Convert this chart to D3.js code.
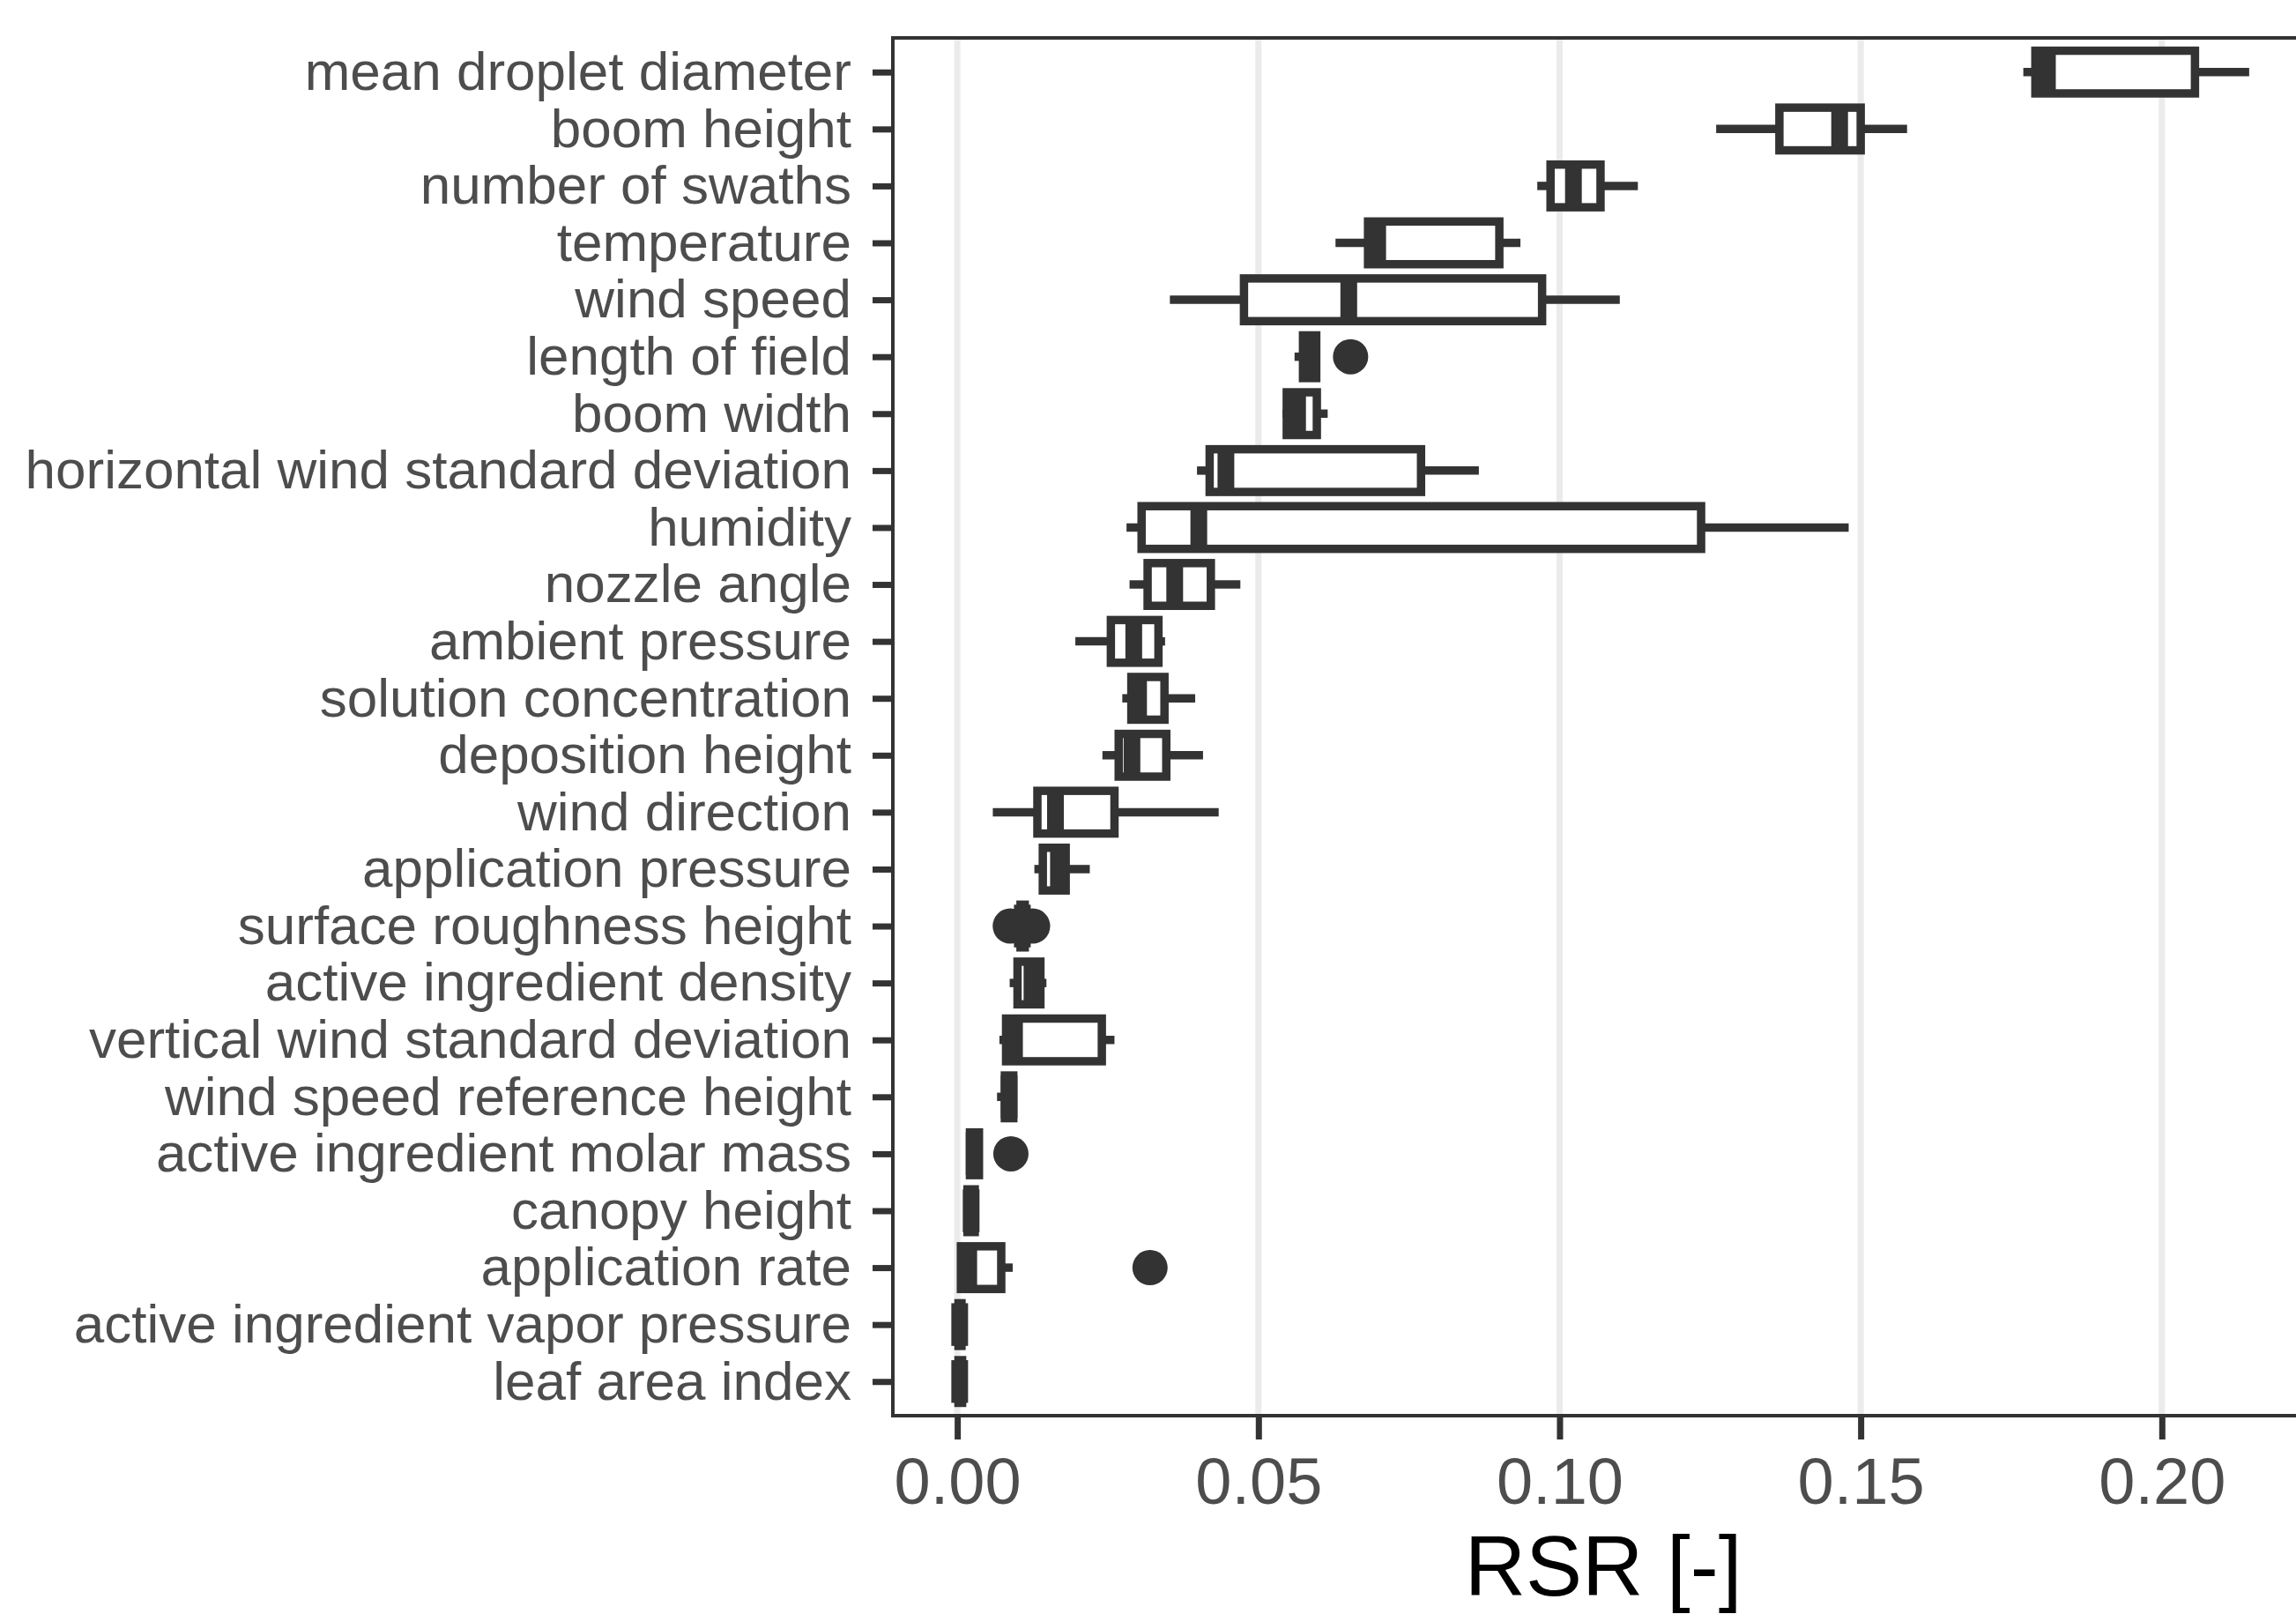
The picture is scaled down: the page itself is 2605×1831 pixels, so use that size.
<!DOCTYPE html>
<html>
<head>
<meta charset="utf-8">
<script src="https://cdn.jsdelivr.net/npm/d3@7"></script>
<style>
  body { margin: 0; background: #fff; }
  svg { display: block; font-family: "Liberation Sans", Arial, sans-serif; }
</style>
</head>
<body>
<script>
// parameters, top to bottom
var categories = [
  "mean droplet diameter", "boom height", "number of swaths", "temperature",
  "wind speed", "length of field", "boom width", "horizontal wind standard deviation",
  "humidity", "nozzle angle", "ambient pressure", "solution concentration",
  "deposition height", "wind direction", "application pressure", "surface roughness height",
  "active ingredient density", "vertical wind standard deviation", "wind speed reference height",
  "active ingredient molar mass", "canopy height", "application rate",
  "active ingredient vapor pressure", "leaf area index"
];

// box statistics
var whiskerLow = [0.177, 0.126, 0.0963, 0.0628, 0.0353, 0.0560, 0.0540, 0.0398,
  0.0281, 0.0286, 0.0196, 0.0274, 0.0241, 0.0059, 0.0128, 0.0103,
  0.0087, 0.0070, 0.0066, 0.0019, 0.0015, 0.0004, 0.0000, 0.0000];
var q1 = [0.179, 0.1365, 0.0985, 0.0682, 0.0476, 0.0574, 0.0547, 0.0419,
  0.0306, 0.0316, 0.0255, 0.0289, 0.0268, 0.0133, 0.0142, 0.0105,
  0.0100, 0.0081, 0.0079, 0.0021, 0.0017, 0.0006, 0.0002, 0.0002];
var median = [0.181, 0.1465, 0.1023, 0.0698, 0.0650, 0.0585, 0.0565, 0.0446,
  0.0401, 0.0361, 0.0293, 0.0301, 0.0290, 0.0163, 0.0168, 0.0108,
  0.0124, 0.0095, 0.0086, 0.0028, 0.0023, 0.0019, 0.0004, 0.0004];
var q3 = [0.2055, 0.150, 0.1068, 0.090, 0.0971, 0.0596, 0.0597, 0.077,
  0.1235, 0.0421, 0.0334, 0.0344, 0.0347, 0.0261, 0.0180, 0.0112,
  0.0138, 0.0240, 0.0093, 0.0036, 0.0029, 0.0073, 0.0007, 0.0008];
var whiskerHigh = [0.2145, 0.1577, 0.113, 0.0935, 0.110, 0.0597, 0.0615, 0.0866,
  0.148, 0.047, 0.0345, 0.0395, 0.0408, 0.0434, 0.0220, 0.0114,
  0.0148, 0.0261, 0.0095, 0.0038, 0.0031, 0.0092, 0.0008, 0.0010];
var outliers = [
  {cat: "length of field", v: 0.0653},
  {cat: "surface roughness height", v: 0.0088},
  {cat: "surface roughness height", v: 0.0125},
  {cat: "active ingredient molar mass", v: 0.0089},
  {cat: "application rate", v: 0.032}
];
var xTicks = [0, 0.05, 0.10, 0.15, 0.20];

var width = 2605, height = 1831;
var margin = {top: 43, right: -20, bottom: 225, left: 1013};
var ink = "#333333";
var lw = 9.5;

var svg = d3.select("body").append("svg")
  .attr("width", width)
  .attr("height", height);

var x = d3.scaleLinear()
  .domain([-0.0107, 0.2252])
  .range([margin.left, width - margin.right]);

var y = d3.scalePoint()
  .domain(categories)
  .range([margin.top, height - margin.bottom])
  .padding(0.6);

var step = y.step();
var boxH = step * 0.75;

// grid
svg.append("g").selectAll("line")
  .data(xTicks)
  .enter().append("line")
  .attr("x1", function(d) { return x(d); })
  .attr("x2", function(d) { return x(d); })
  .attr("y1", margin.top)
  .attr("y2", height - margin.bottom)
  .attr("stroke", "#EBEBEB")
  .attr("stroke-width", 7);

var rows = categories.map(function(c, i) {
  return {cat: c, lo: whiskerLow[i], q1: q1[i], med: median[i], q3: q3[i], hi: whiskerHigh[i]};
});

var plot = svg.append("g");

// outliers
plot.selectAll("circle")
  .data(outliers)
  .enter().append("circle")
  .attr("cx", function(d) { return x(d.v); })
  .attr("cy", function(d) { return y(d.cat); })
  .attr("r", 20)
  .attr("fill", ink);

var g = plot.selectAll("g.box")
  .data(rows)
  .enter().append("g")
  .attr("class", "box");

// whiskers
g.append("line")
  .attr("x1", function(d) { return x(d.lo); })
  .attr("x2", function(d) { return x(d.q1); })
  .attr("y1", function(d) { return y(d.cat); })
  .attr("y2", function(d) { return y(d.cat); })
  .attr("stroke", ink).attr("stroke-width", lw);
g.append("line")
  .attr("x1", function(d) { return x(d.q3); })
  .attr("x2", function(d) { return x(d.hi); })
  .attr("y1", function(d) { return y(d.cat); })
  .attr("y2", function(d) { return y(d.cat); })
  .attr("stroke", ink).attr("stroke-width", lw);

// boxes
g.append("rect")
  .attr("x", function(d) { return x(d.q1); })
  .attr("width", function(d) { return x(d.q3) - x(d.q1); })
  .attr("y", function(d) { return y(d.cat) - boxH / 2; })
  .attr("height", boxH)
  .attr("fill", "#fff")
  .attr("stroke", ink)
  .attr("stroke-width", lw);

// median, twice as fat
g.append("line")
  .attr("x1", function(d) { return x(d.med); })
  .attr("x2", function(d) { return x(d.med); })
  .attr("y1", function(d) { return y(d.cat) - boxH / 2; })
  .attr("y2", function(d) { return y(d.cat) + boxH / 2; })
  .attr("stroke", ink).attr("stroke-width", lw * 2);

// panel border (left, top, bottom)
var bottom = height - margin.bottom;
svg.append("path")
  .attr("d", "M" + (width + 10) + "," + margin.top + "H" + margin.left + "V" + bottom + "H" + (width + 10))
  .attr("fill", "none")
  .attr("stroke", ink)
  .attr("stroke-width", 4);

// y axis
var yAxis = svg.append("g")
  .attr("transform", "translate(" + margin.left + ",0)")
  .call(d3.axisLeft(y).tickSize(23).tickPadding(24));
yAxis.select(".domain").remove();
yAxis.selectAll(".tick line").attr("stroke", ink).attr("stroke-width", 7);
yAxis.selectAll(".tick text")
  .attr("fill", "#4D4D4D")
  .attr("font-size", 62)
  .attr("font-family", "Liberation Sans, Arial, sans-serif");

// x axis
var xAxis = svg.append("g")
  .attr("transform", "translate(0," + bottom + ")")
  .call(d3.axisBottom(x).tickValues(xTicks).tickFormat(d3.format(".2f")).tickSize(27).tickPadding(20));
xAxis.select(".domain").remove();
xAxis.selectAll(".tick line").attr("stroke", ink).attr("stroke-width", 7);
xAxis.selectAll(".tick text")
  .attr("fill", "#4D4D4D")
  .attr("font-size", 74)
  .attr("font-family", "Liberation Sans, Arial, sans-serif");

// axis title
svg.append("text")
  .attr("x", (margin.left + width - margin.right) / 2)
  .attr("y", 1810)
  .attr("text-anchor", "middle")
  .attr("font-size", 96)
  .attr("fill", "#000")
  .text("RSR [-]");
</script>
</body>
</html>
